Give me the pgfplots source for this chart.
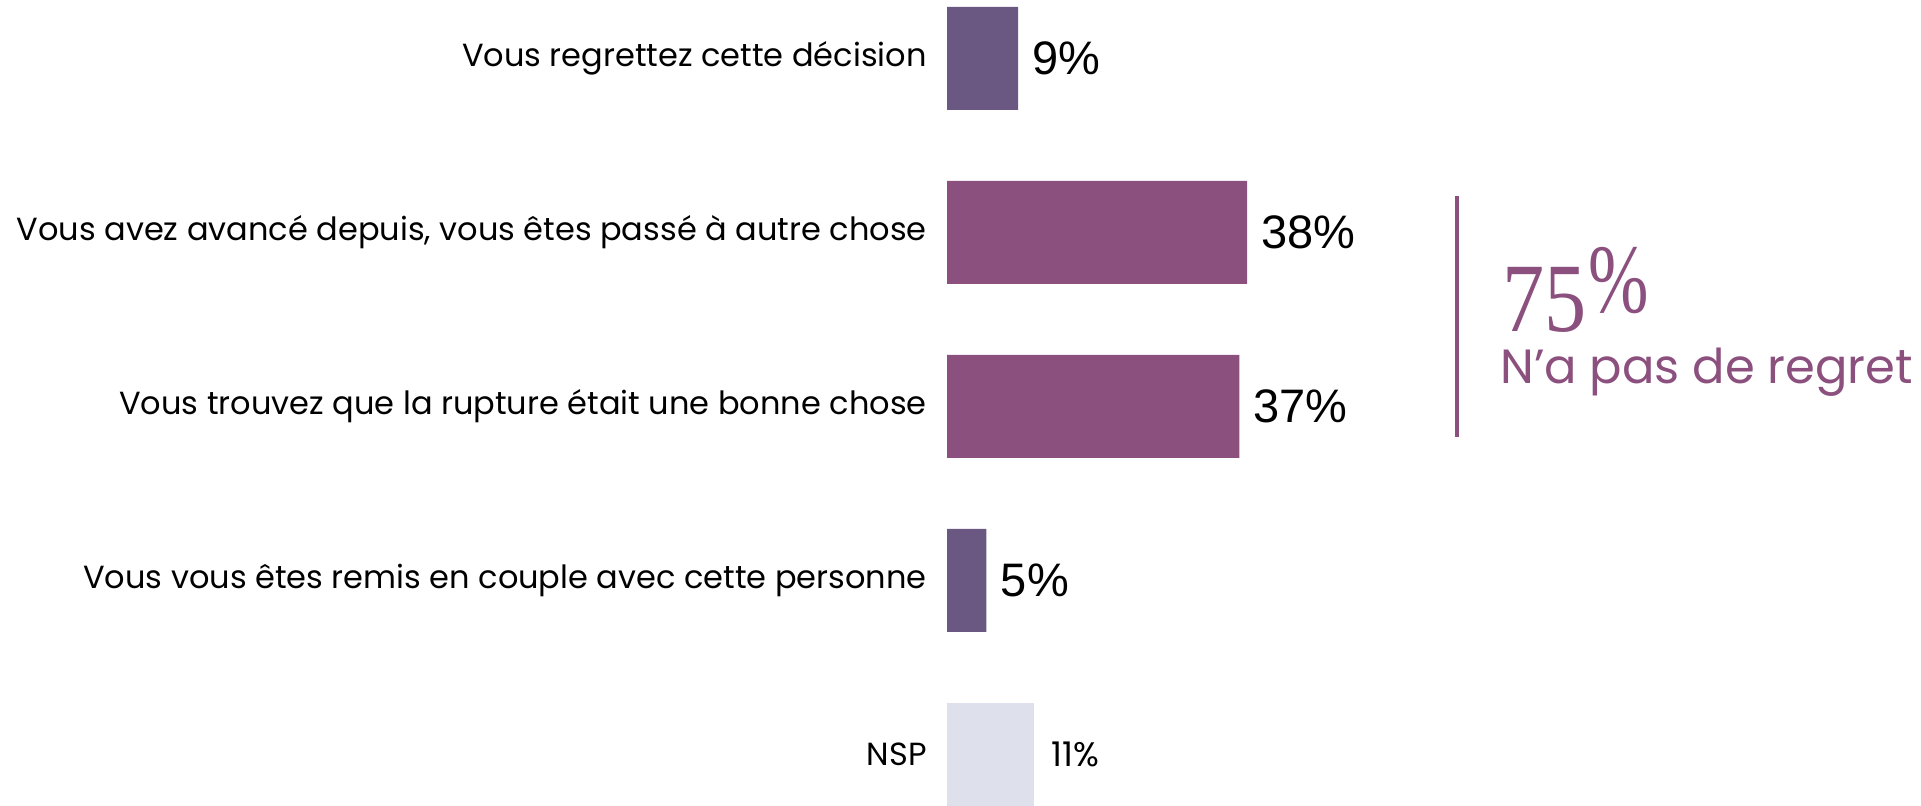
\documentclass[border=0pt]{standalone}
\usepackage{fontspec}
\setmainfont{Poppins}
\newfontfamily\arialfont{Liberation Sans}
\newfontfamily\seriffont{Liberation Serif}
\usepackage{pgfplots}
\pgfplotsset{compat=1.18}
\definecolor{barviolet}{HTML}{6A5882}
\definecolor{barprune}{HTML}{8B507E}
\definecolor{barnsp}{HTML}{DEE0EC}
\begin{document}
\begin{tikzpicture}
\useasboundingbox (0,0) rectangle (960.5pt,403pt);
\begin{axis}[
  at={(473.5pt,0pt)}, anchor=south west,
  scale only axis, width=487pt, height=403pt,
  xmin=0, xmax=123.3, ymin=-0.336, ymax=4.296,
  y dir=reverse,
  axis line style={draw=none},
  major tick length=0pt,
  xtick=\empty,
  ytick={0,1,2,3,4},
  yticklabels={Vous regrettez cette décision,
    {Vous avez avancé depuis, vous êtes passé à autre chose},
    Vous trouvez que la rupture était une bonne chose,
    Vous vous êtes remis en couple avec cette personne,
    NSP},
  yticklabel style={font=\fontsize{16}{19}\selectfont, anchor=east, inner sep=0pt, xshift=-10pt},
  xbar, bar width=0.592,
  clip=false,
  nodes near coords, point meta=explicit symbolic,
  every node near coord/.append style={anchor=west, inner sep=0pt, xshift=7pt,
    font=\arialfont\fontsize{23.5}{27}\selectfont, text=black},
]
\addplot[draw=none, fill=barviolet, bar shift=0pt] coordinates {(9,0) [9\%] (5,3) [5\%]};
\addplot[draw=none, fill=barprune, bar shift=0pt] coordinates {(38,1) [38\%] (37,2) [37\%]};
\addplot[draw=none, fill=barnsp, bar shift=0pt,
  every node near coord/.append style={font=\fontsize{17}{20}\selectfont, xshift=1.5pt}] coordinates {(11,4) [11\%]};
\end{axis}
% bracket: 75% n'a pas de regret
\draw[barprune, line width=2pt] (728.5pt,184.5pt) -- (728.5pt,305pt);
\node[anchor=base west, inner sep=0pt, text=barprune, font=\seriffont\fontsize{49}{54}\selectfont]
  at (751pt,237pt) {\scalebox{0.86}[1]{75}\kern1pt\raisebox{9.5pt}{\scalebox{0.74}[1]{\%}}};
\node[anchor=base west, inner sep=0pt, text=barprune, font=\fontsize{24}{28}\selectfont]
  at (750pt,211pt) {N’a pas de regret};
\end{tikzpicture}
\end{document}
